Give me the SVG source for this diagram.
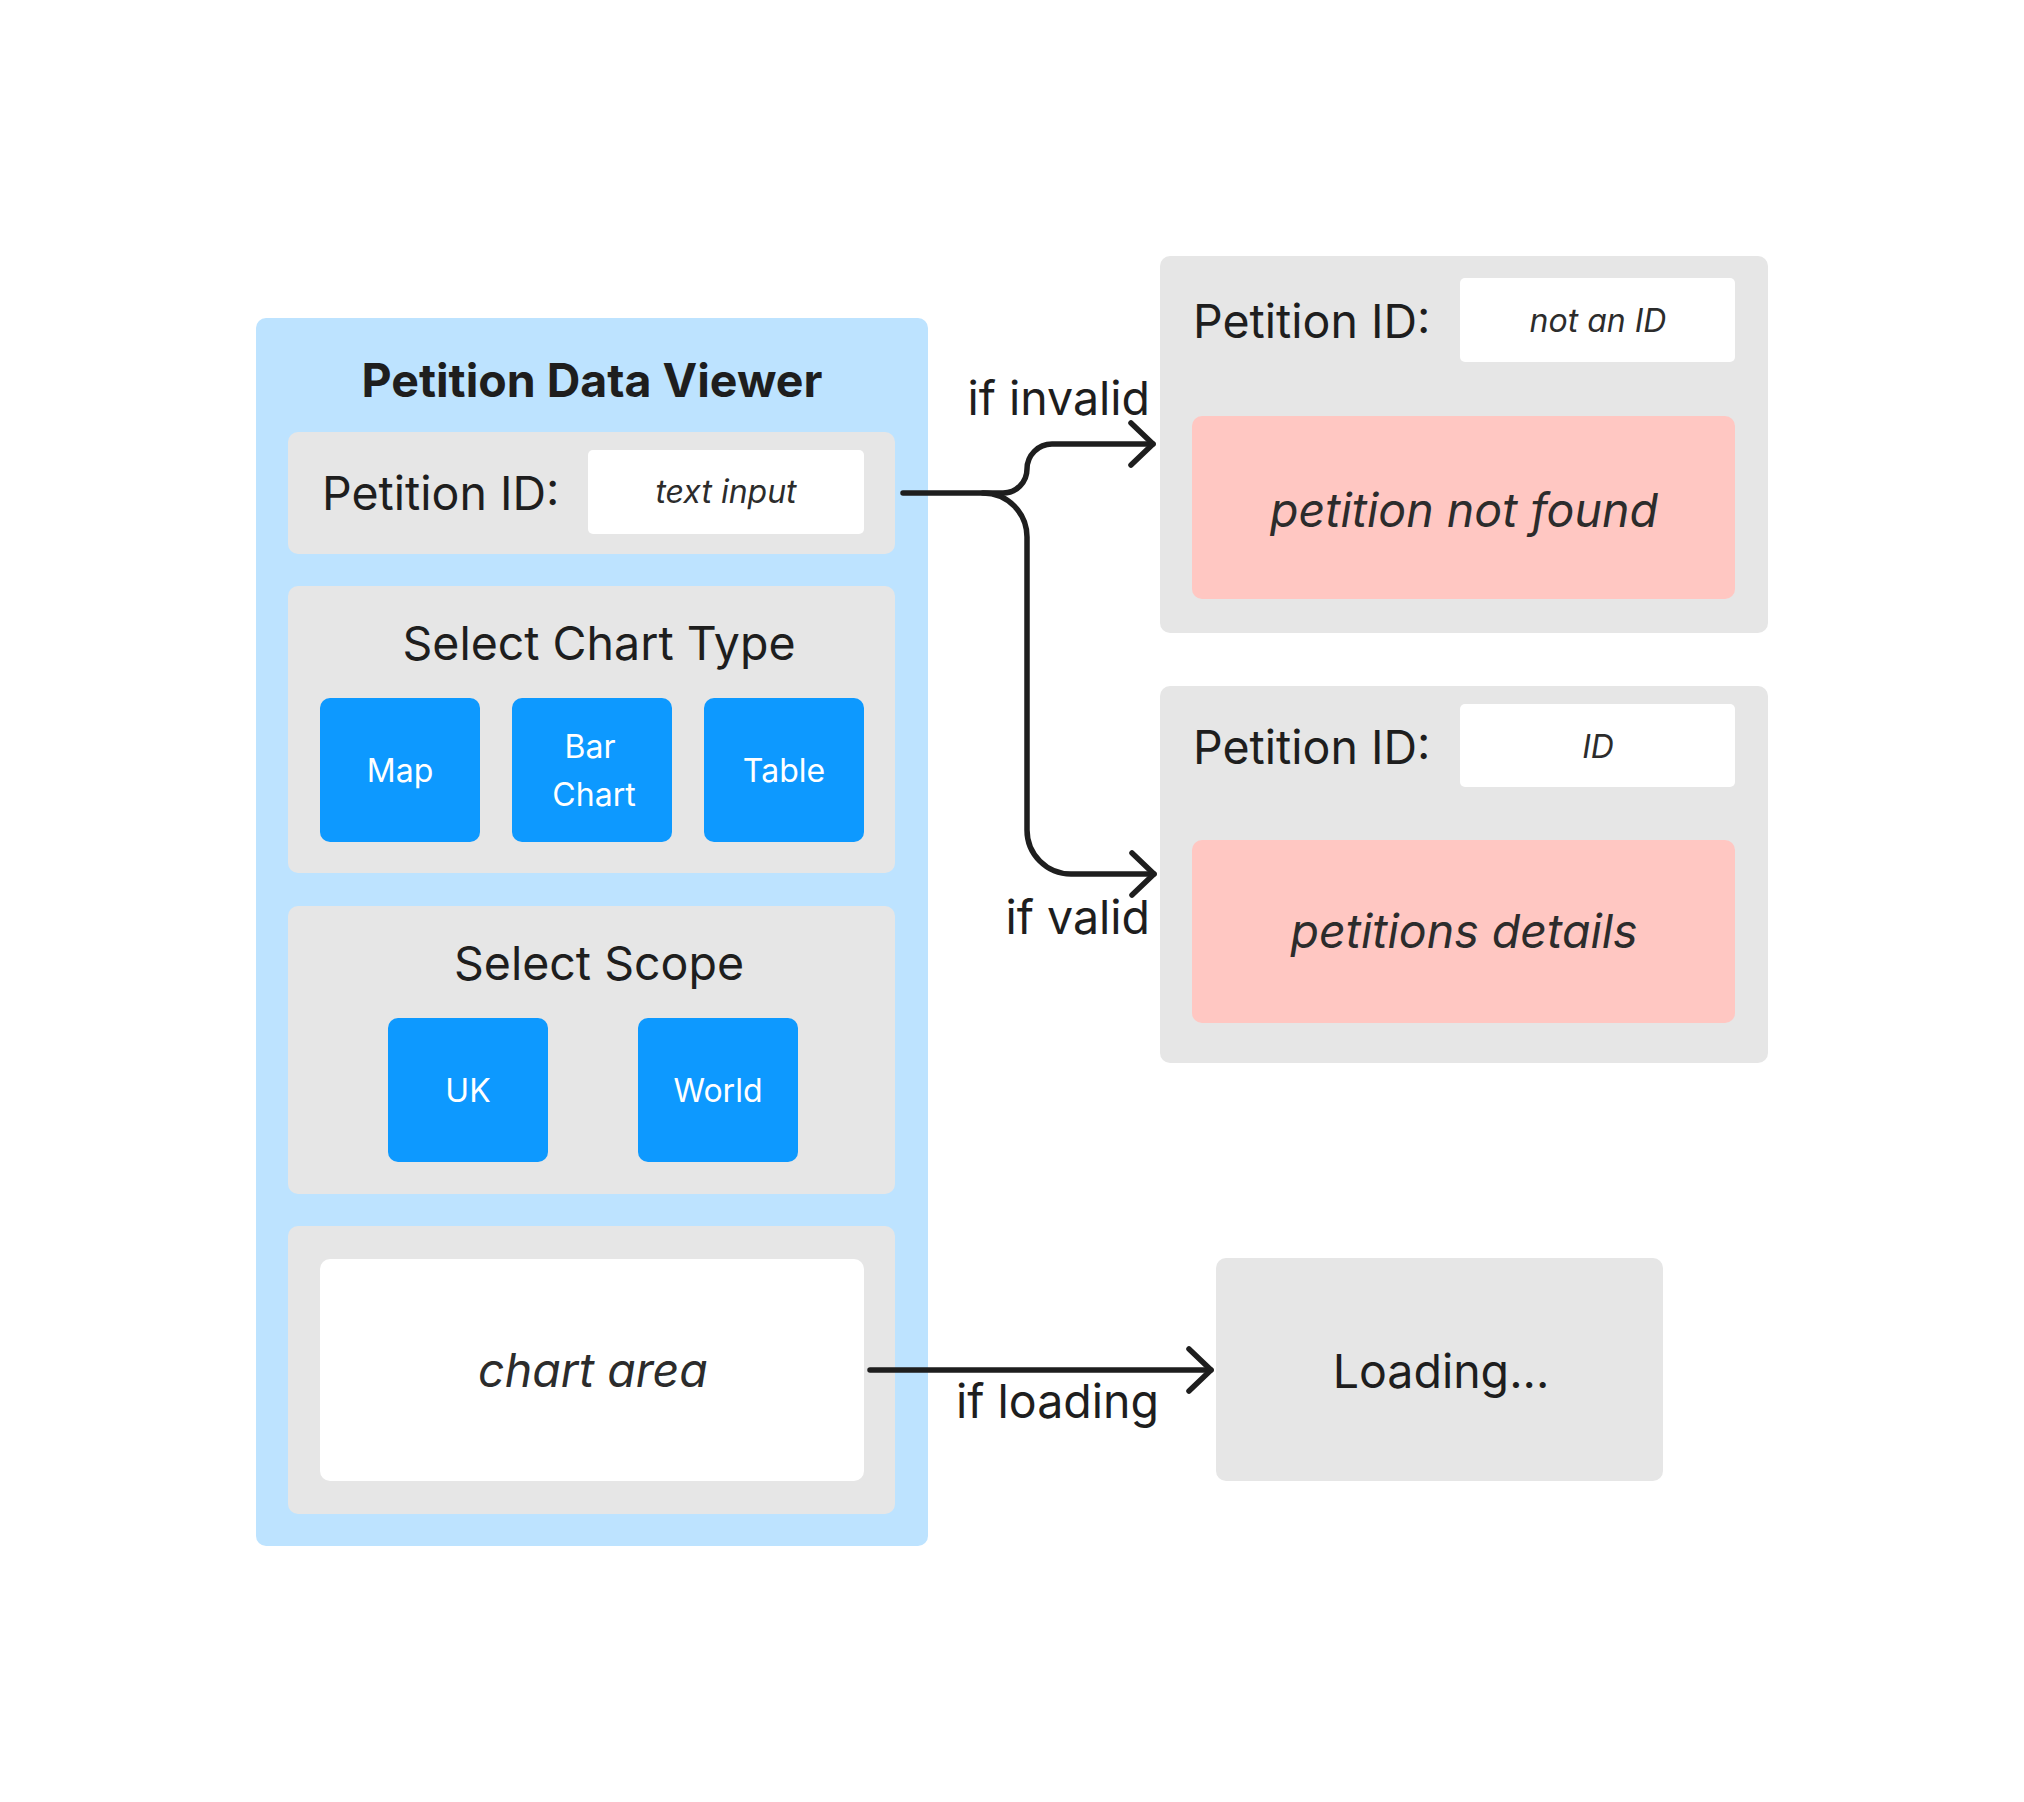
<svg xmlns="http://www.w3.org/2000/svg" width="2024" height="1802" viewBox="0 0 2024 1802">
  <style>
    .t { font-family: Inter, "Noto Sans", "Liberation Sans", sans-serif; fill: #1e1e1e; }
    .lbl { font-size: 46.5px; }
    .it { font-style: italic; fill: #2c2c2c; }
    .sm { font-size: 32px; }
    .btn { fill: #0d99ff; }
    .btxt { fill: #ffffff; font-size: 32px; text-anchor: middle; }
    .grey { fill: #e6e6e6; }
    .white { fill: #ffffff; }
    .pink { fill: #ffc7c2; }
    .mid { text-anchor: middle; }
    .end { text-anchor: end; }
    .conn { fill: none; stroke: #1e1e1e; stroke-width: 5.5; stroke-linecap: round; stroke-linejoin: round; }
  </style>
  <defs>
    <marker id="chev" markerUnits="userSpaceOnUse" markerWidth="60" markerHeight="60" refX="30" refY="30" orient="auto" viewBox="0 0 60 60">
      <path d="M 8 9 L 30 30 L 8 51" fill="none" stroke="#1e1e1e" stroke-width="5.5" stroke-linecap="round" stroke-linejoin="round"/>
    </marker>
  </defs>
  <rect width="2024" height="1802" fill="#ffffff"/>

  <g id="viewer">
    <rect x="256" y="318" width="672" height="1228" rx="10" fill="#bde3ff"/>
    <text class="t" x="592" y="397" font-size="46.5" font-weight="700" text-anchor="middle">Petition Data Viewer</text>
  </g>

  <g id="petition-id-input">
    <rect class="grey" x="288" y="432" width="607" height="122" rx="10"/>
    <text class="t lbl" x="322" y="510">Petition ID:</text>
    <rect class="white" x="588" y="450" width="276" height="84" rx="5"/>
    <text class="t it sm mid" x="726" y="503">text input</text>
  </g>

  <g id="chart-type">
    <rect class="grey" x="288" y="586" width="607" height="287" rx="10"/>
    <text class="t lbl mid" x="599" y="660">Select Chart Type</text>
    <g id="btn-map">
      <rect class="btn" x="320" y="698" width="160" height="144" rx="10"/>
      <text class="t btxt" x="400" y="782">Map</text>
    </g>
    <g id="btn-bar">
      <rect class="btn" x="512" y="698" width="160" height="144" rx="10"/>
      <text class="t btxt" x="590" y="758">Bar</text>
      <text class="t btxt" x="594" y="806">Chart</text>
    </g>
    <g id="btn-table">
      <rect class="btn" x="704" y="698" width="160" height="144" rx="10"/>
      <text class="t btxt" x="784" y="782">Table</text>
    </g>
  </g>

  <g id="scope">
    <rect class="grey" x="288" y="906" width="607" height="288" rx="10"/>
    <text class="t lbl mid" x="599" y="980">Select Scope</text>
    <g id="btn-uk">
      <rect class="btn" x="388" y="1018" width="160" height="144" rx="10"/>
      <text class="t btxt" x="468" y="1102">UK</text>
    </g>
    <g id="btn-world">
      <rect class="btn" x="638" y="1018" width="160" height="144" rx="10"/>
      <text class="t btxt" x="718" y="1102">World</text>
    </g>
  </g>

  <g id="chart-area">
    <rect class="grey" x="288" y="1226" width="607" height="288" rx="10"/>
    <rect class="white" x="320" y="1259" width="544" height="222" rx="10"/>
    <text class="t lbl it mid" x="593" y="1387">chart area</text>
  </g>

  <g id="not-found">
    <rect class="grey" x="1160" y="256" width="608" height="377" rx="10"/>
    <text class="t lbl" x="1193" y="338">Petition ID:</text>
    <rect class="white" x="1460" y="278" width="275" height="84" rx="5"/>
    <text class="t it sm mid" x="1598" y="332">not an ID</text>
    <rect class="pink" x="1192" y="416" width="543" height="183" rx="10"/>
    <text class="t lbl it mid" x="1464" y="527">petition not found</text>
  </g>

  <g id="details">
    <rect class="grey" x="1160" y="686" width="608" height="377" rx="10"/>
    <text class="t lbl" x="1193" y="764">Petition ID:</text>
    <rect class="white" x="1460" y="704" width="275" height="83" rx="5"/>
    <text class="t it sm mid" x="1598" y="758">ID</text>
    <rect class="pink" x="1192" y="840" width="543" height="183" rx="10"/>
    <text class="t lbl it mid" x="1464" y="948">petitions details</text>
  </g>

  <g id="loading">
    <rect class="grey" x="1216" y="1258" width="447" height="223" rx="10"/>
    <text class="t lbl mid" x="1441" y="1388">Loading...</text>
  </g>

  <g id="connectors">
    <path class="conn" d="M 903 493 H 1003 A 24 24 0 0 0 1027 469 A 25 25 0 0 1 1052 444 H 1153" marker-end="url(#chev)"/>
    <path class="conn" d="M 983 493 A 44 44 0 0 1 1027 537 V 830 A 44 44 0 0 0 1071 874 H 1154" marker-end="url(#chev)"/>
    <path class="conn" d="M 870 1370 H 1211" marker-end="url(#chev)"/>
    <text class="t lbl end" x="1150" y="415">if invalid</text>
    <text class="t lbl end" x="1150" y="934">if valid</text>
    <text class="t lbl" x="956" y="1418">if loading</text>
  </g>
</svg>
